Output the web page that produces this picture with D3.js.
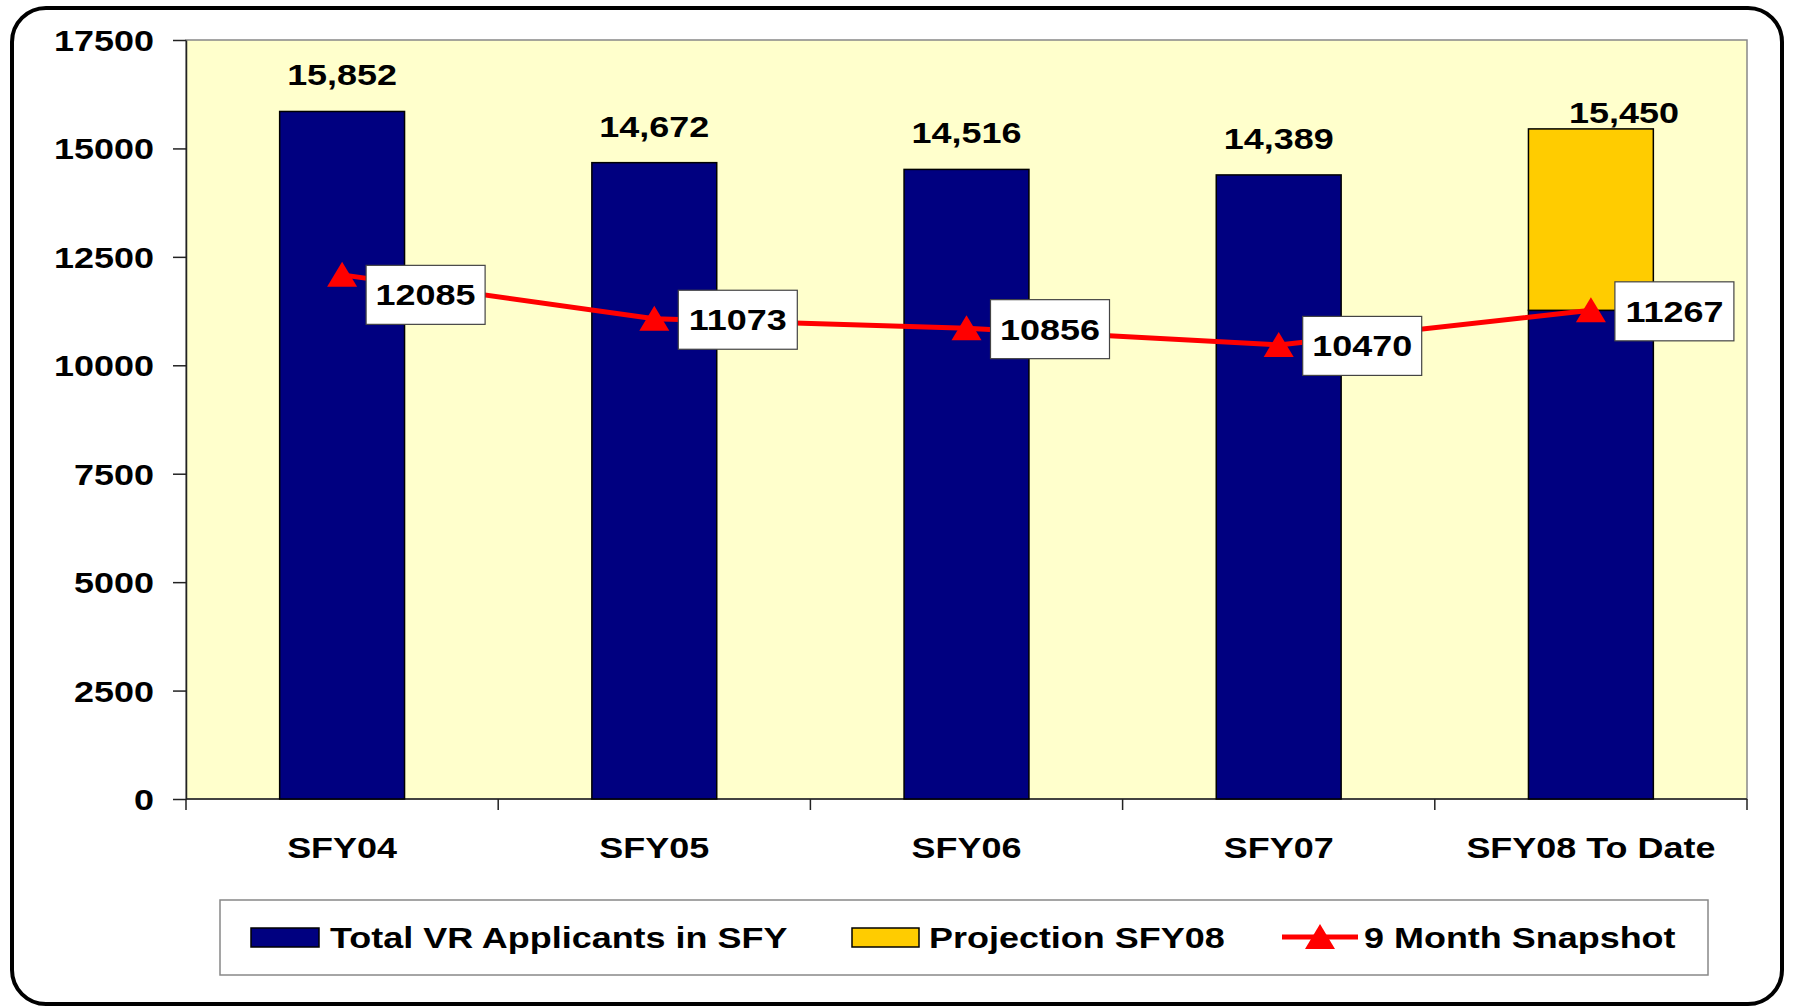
<!DOCTYPE html>
<html>
<head>
<meta charset="utf-8">
<script src="https://cdn.jsdelivr.net/npm/d3@7"></script>
<style>
  body { margin: 0; background: #fff; }
  text { font-family: "Liberation Sans", Arial, sans-serif; font-weight: bold; fill: #000; }
</style>
</head>
<body>
<div class="chart__container"></div>
<script>
//data
const categories = ['SFY04', 'SFY05', 'SFY06', 'SFY07', 'SFY08 To Date'];
const applicants = [15852, 14672, 14516, 14389, 11267];
const applicantLabels = ['15,852', '14,672', '14,516', '14,389', ''];
const projection = [0, 0, 0, 0, 4183];
const projectionLabels = ['', '', '', '', '15,450'];
const snapshot = [12085, 11073, 10856, 10470, 11267];
const yTicks = [0, 2500, 5000, 7500, 10000, 12500, 15000, 17500];
const legendNames = ['Total VR Applicants in SFY', 'Projection SFY08', '9 Month Snapshot'];

//chart
const width = 1795;
const height = 1008;
const plot = { left: 186, right: 1747, top: 40, bottom: 799 };
const stretch = 1.24; // text in the original is widened
const fontSize = 29;

const svg = d3.select('.chart__container')
    .append('svg')
    .attr('width', width)
    .attr('height', height);

// outer frame
svg.append('rect')
    .attr('x', 12).attr('y', 8)
    .attr('width', 1770).attr('height', 996)
    .attr('rx', 34)
    .style('fill', '#fff')
    .style('stroke', '#000')
    .style('stroke-width', 4);

// helper for widened text
const addText = (g, x, y, str, anchor) => g.append('text')
    .attr('transform', `translate(${x},${y}) scale(${stretch},1)`)
    .style('font-size', fontSize + 'px')
    .style('text-anchor', anchor || 'middle')
    .text(str);

//Scales
const xScale = d3.scaleBand()
    .domain(categories)
    .range([plot.left, plot.right])
    .paddingInner(0.6)
    .paddingOuter(0.3);
const yScale = d3.scaleLinear()
    .domain([0, 17500])
    .range([plot.bottom, plot.top]);
const cx = c => xScale(c) + xScale.bandwidth() / 2;

// plot area
svg.append('rect')
    .attr('x', plot.left).attr('y', plot.top)
    .attr('width', plot.right - plot.left)
    .attr('height', plot.bottom - plot.top)
    .style('fill', '#FFFFCC')
    .style('stroke', '#888')
    .style('stroke-width', 1.5);

// y axis
const yAxis = d3.axisLeft(yScale)
    .tickValues(yTicks)
    .tickSize(13)
    .tickSizeOuter(0)
    .tickFormat('');
const yAxisDraw = svg.append('g')
    .attr('class', 'y-axis')
    .attr('transform', `translate(${plot.left},0)`)
    .call(yAxis);
yAxisDraw.selectAll('path, line').style('stroke', '#222').style('stroke-width', 1.5);
const yLabels = svg.append('g');
yTicks.forEach(t => addText(yLabels, 154, yScale(t) + 11, t, 'end'));

// x axis with ticks at category boundaries
const boundaries = categories.map(c => xScale(c) - xScale.step() * 0.3)
    .concat([xScale(categories[categories.length - 1]) + xScale.step() * 0.7]);
const xAxisDraw = svg.append('g').attr('class', 'x-axis');
xAxisDraw.append('line')
    .attr('x1', plot.left).attr('x2', plot.right)
    .attr('y1', plot.bottom).attr('y2', plot.bottom)
    .style('stroke', '#222').style('stroke-width', 1.5);
xAxisDraw.selectAll('.tick')
    .data(boundaries)
    .enter()
    .append('line')
    .attr('x1', d => d).attr('x2', d => d)
    .attr('y1', plot.bottom).attr('y2', plot.bottom + 11)
    .style('stroke', '#222').style('stroke-width', 1.5);
categories.forEach(c => addText(xAxisDraw, cx(c), 858, c));

// bars
const bars = svg.append('g').attr('class', 'bars');
bars.selectAll('.bar-total')
    .data(categories)
    .enter()
    .append('rect')
    .attr('x', d => xScale(d))
    .attr('y', (d, i) => yScale(applicants[i]))
    .attr('width', xScale.bandwidth())
    .attr('height', (d, i) => yScale(0) - yScale(applicants[i]))
    .style('fill', '#000080')
    .style('stroke', '#000')
    .style('stroke-width', 1.5);
bars.selectAll('.bar-projection')
    .data(categories.filter((c, i) => projection[i] > 0))
    .enter()
    .append('rect')
    .attr('x', d => xScale(d))
    .attr('y', d => { const i = categories.indexOf(d); return yScale(applicants[i] + projection[i]); })
    .attr('width', xScale.bandwidth())
    .attr('height', d => { const i = categories.indexOf(d); return yScale(applicants[i]) - yScale(applicants[i] + projection[i]); })
    .style('fill', '#FFCC00')
    .style('stroke', '#000')
    .style('stroke-width', 1.5);

// bar labels
const barLabels = svg.append('g');
categories.forEach((c, i) => {
    if (applicantLabels[i]) addText(barLabels, cx(c), yScale(applicants[i]) - 26, applicantLabels[i]);
    if (projectionLabels[i]) addText(barLabels, cx(c) + 33, yScale(applicants[i] + projection[i]) - 6, projectionLabels[i]);
});

// snapshot line
const lineGenerator = d3.line()
    .x((d, i) => cx(categories[i]))
    .y(d => yScale(d));
svg.append('path')
    .attr('d', lineGenerator(snapshot))
    .style('fill', 'none')
    .style('stroke', '#FF0000')
    .style('stroke-width', 5);

const triangle = (x, y) => `M${x},${y - 13}L${x + 15},${y + 12}L${x - 15},${y + 12}Z`;
svg.append('g')
    .selectAll('path')
    .data(snapshot)
    .enter()
    .append('path')
    .attr('d', (d, i) => triangle(cx(categories[i]), yScale(d)))
    .style('fill', '#FF0000');

// snapshot labels
const snapLabels = svg.append('g');
snapshot.forEach((v, i) => {
    const x = cx(categories[i]) + 24;
    const y = yScale(v) + (i === 0 ? 20 : 1);
    snapLabels.append('rect')
        .attr('x', x).attr('y', y - 29.5)
        .attr('width', 119).attr('height', 59)
        .style('fill', '#fff')
        .style('stroke', '#444')
        .style('stroke-width', 1.2);
    addText(snapLabels, x + 59.5, y + 10.5, v);
});

// legend
const legend = svg.append('g').attr('class', 'legend');
legend.append('rect')
    .attr('x', 220).attr('y', 900)
    .attr('width', 1488).attr('height', 75)
    .style('fill', '#fff')
    .style('stroke', '#888')
    .style('stroke-width', 1.5);
legend.append('rect')
    .attr('x', 251).attr('y', 928).attr('width', 68).attr('height', 19)
    .style('fill', '#000080').style('stroke', '#000').style('stroke-width', 1.5);
addText(legend, 330, 948, legendNames[0], 'start');
legend.append('rect')
    .attr('x', 852).attr('y', 928).attr('width', 67).attr('height', 19)
    .style('fill', '#FFCC00').style('stroke', '#000').style('stroke-width', 1.5);
addText(legend, 929, 948, legendNames[1], 'start');
legend.append('line')
    .attr('x1', 1282).attr('x2', 1358).attr('y1', 937).attr('y2', 937)
    .style('stroke', '#FF0000').style('stroke-width', 5);
legend.append('path')
    .attr('d', triangle(1320, 937))
    .style('fill', '#FF0000');
addText(legend, 1364, 948, legendNames[2], 'start');
</script>
</body>
</html>
